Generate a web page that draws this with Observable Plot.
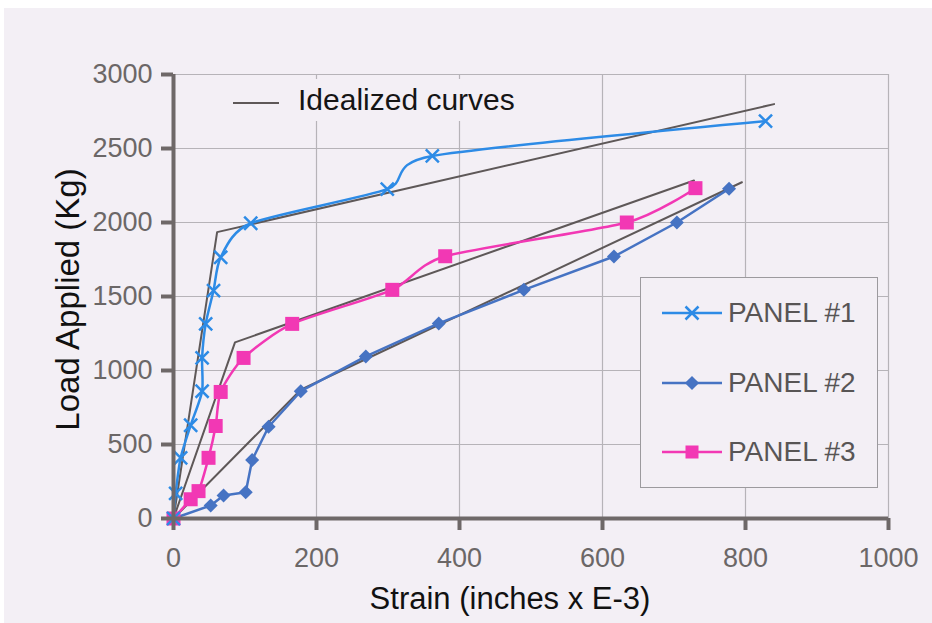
<!DOCTYPE html>
<html>
<head>
<meta charset="utf-8">
<script src="https://cdn.jsdelivr.net/npm/d3@7"></script>
<script src="https://cdn.jsdelivr.net/npm/@observablehq/plot@0.6"></script>
<style>
  html, body { margin: 0; padding: 0; background: #ffffff; }
  #wrap { position: relative; width: 932px; height: 623px; overflow: hidden; background: #ffffff; }
  #bg { position: absolute; left: 4px; top: 8px; right: 0; bottom: 0; background: #f3eff5; }
  #chart { position: absolute; left: 0; top: 0; }
  .legbox { position: absolute; background: #f3eff5; font-family: "Liberation Sans", Arial, sans-serif; }
  .row { position: absolute; display: flex; align-items: center; }
  .row span { white-space: nowrap; }
</style>
</head>
<body>
<div id="wrap">
  <div id="bg"></div>
  <div id="chart"></div>
</div>
<script>
// ---------- data ----------
const xTicks = [0, 200, 400, 600, 800, 1000];
const yTicks = [0, 500, 1000, 1500, 2000, 2500, 3000];

const seriesNames = ["PANEL #1", "PANEL #2", "PANEL #3"];
const idealName = "Idealized curves";

const panel1Strain = [0, 3, 10, 24, 40, 40, 45, 56, 66, 108, 299, 362, 828];
const panel1Load   = [0, 170, 410, 630, 860, 1085, 1315, 1540, 1765, 1995, 2225, 2450, 2685];

const panel2Strain = [0, 52, 70, 101, 110, 133, 178, 269, 371, 490, 616, 704, 777];
const panel2Load   = [0, 88, 155, 178, 395, 620, 860, 1095, 1318, 1545, 1770, 2000, 2228];

const panel3Strain = [0, 24, 35, 49, 59, 66, 98, 166, 306, 380, 634, 730];
const panel3Load   = [0, 130, 185, 410, 625, 855, 1085, 1315, 1545, 1772, 2000, 2232];

const ideal1Strain = [0, 61, 840];
const ideal1Load   = [0, 1935, 2800];
const ideal2Strain = [0, 178, 795];
const ideal2Load   = [0, 870, 2272];
const ideal3Strain = [0, 86, 728];
const ideal3Load   = [0, 1190, 2284];

const xLabel = "Strain (inches x E-3)";
const yLabel = "Load Applied (Kg)";

// ---------- styles ----------
const c1 = "#2d8be6", c2 = "#4673c3", c3 = "#f238b4";
const idealColor = "#5e5858";
const axisColor = "#6e6868";
const gridColor = "#b6b3b8";
const font = "Liberation Sans, Arial, sans-serif";

const toPts = (xs, ys) => xs.map((x, i) => ({x, y: ys[i]}));
const p1 = toPts(panel1Strain, panel1Load);
const p2 = toPts(panel2Strain, panel2Load);
const p3 = toPts(panel3Strain, panel3Load);
const i1 = toPts(ideal1Strain, ideal1Load);
const i2 = toPts(ideal2Strain, ideal2Load);
const i3 = toPts(ideal3Strain, ideal3Load);

const chart = Plot.plot({
  width: 932,
  height: 623,
  marginLeft: 173,
  marginRight: 44,
  marginTop: 74,
  marginBottom: 105,
  style: { background: "transparent", fontFamily: font, overflow: "visible" },
  x: { domain: [0, 1000] },
  y: { domain: [0, 3000] },
  marks: [
    Plot.gridX(xTicks.slice(1), { stroke: gridColor, strokeOpacity: 1, strokeWidth: 1.2 }),
    Plot.gridY(yTicks.slice(1), { stroke: gridColor, strokeOpacity: 1, strokeWidth: 1.2 }),
    Plot.line(i1, { x: "x", y: "y", stroke: idealColor, strokeWidth: 2 }),
    Plot.line(i2, { x: "x", y: "y", stroke: idealColor, strokeWidth: 2 }),
    Plot.line(i3, { x: "x", y: "y", stroke: idealColor, strokeWidth: 2 }),
    Plot.line(p2, { x: "x", y: "y", stroke: c2, strokeWidth: 2.5 }),
    Plot.line(p3, { x: "x", y: "y", stroke: c3, strokeWidth: 2.5, curve: "cardinal", tension: 0.3 }),
    Plot.line(p1, { x: "x", y: "y", stroke: c1, strokeWidth: 2.5, curve: "cardinal", tension: 0.3 }),
    Plot.dot(p2, { x: "x", y: "y", symbol: "square", rotate: 45, r: 5.6, fill: c2 }),
    Plot.dot(p3, { x: "x", y: "y", symbol: "square", r: 7.9, fill: c3 }),
    Plot.dot(p1, { x: "x", y: "y", symbol: "times", r: 6, stroke: c1, strokeWidth: 2.5 }),
    Plot.ruleX([0], { stroke: axisColor, strokeWidth: 4 }),
    Plot.ruleY([0], { stroke: axisColor, strokeWidth: 4 }),
    Plot.axisX(xTicks, { tickSize: 12, tickPadding: 17, strokeWidth: 4, stroke: axisColor, fill: "#6b6767", fontSize: 27, label: null, tickFormat: d3.format("d") }),
    Plot.axisY(yTicks, { tickSize: 12, tickPadding: 9, strokeWidth: 4, stroke: axisColor, fill: "#6b6767", fontSize: 27, label: null, tickFormat: d3.format("d") }),
    Plot.text([xLabel], { frameAnchor: "bottom", dy: 90, dx: -21, fontSize: 31, fill: "#111", text: d => d }),
    Plot.text([yLabel], { frameAnchor: "left", rotate: -90, textAnchor: "middle", dx: -105, dy: 3, fontSize: 33, fill: "#111", text: d => d })
  ]
});
document.getElementById("chart").appendChild(chart);

// ---------- legends (HTML overlays) ----------
const wrap = document.getElementById("wrap");

function markerSvg(kind, color) {
  let m = "";
  if (kind === "times") m = `<path d="M23.5,8.5L36.5,21.5M36.5,8.5L23.5,21.5" stroke="${color}" stroke-width="2.5"/>`;
  if (kind === "diamond") m = `<rect x="25" y="10" width="10" height="10" fill="${color}" transform="rotate(45 30 15)"/>`;
  if (kind === "square") m = `<rect x="23.5" y="8.5" width="13" height="13" fill="${color}"/>`;
  return `<svg width="60" height="30" style="display:block"><line x1="0" x2="60" y1="15" y2="15" stroke="${color}" stroke-width="2.5"/>${m}</svg>`;
}

// Idealized curves legend
const leg1 = document.createElement("div");
leg1.className = "legbox";
Object.assign(leg1.style, { left: "222px", top: "79px", width: "320px", height: "42px" });
leg1.innerHTML = `<div class="row" style="left:11px;top:6px;height:30px;">
  <svg width="46" height="30" style="display:block"><line x1="0" x2="46" y1="18" y2="18" stroke="${idealColor}" stroke-width="2"/></svg>
  <span style="margin-left:19px;font-size:30px;color:#151515;">${idealName}</span></div>`;
wrap.appendChild(leg1);

// Panels legend
const leg2 = document.createElement("div");
leg2.className = "legbox";
Object.assign(leg2.style, { left: "640px", top: "277px", width: "236px", height: "209px", border: "1px solid #9c9a9e" });
const kinds = ["times", "diamond", "square"];
const colors = [c1, c2, c3];
const rowY = [20, 90, 159];
leg2.innerHTML = seriesNames.map((name, i) => `<div class="row" style="left:21px;top:${rowY[i]}px;height:30px;">
  ${markerSvg(kinds[i], colors[i])}
  <span style="margin-left:6px;font-size:28px;color:#585555;">${name}</span></div>`).join("");
wrap.appendChild(leg2);
</script>
</body>
</html>
